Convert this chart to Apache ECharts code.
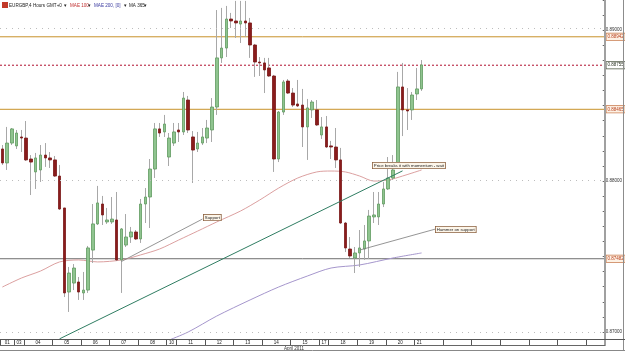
<!DOCTYPE html>
<html>
<head>
<meta charset="utf-8">
<script src="https://cdn.jsdelivr.net/npm/echarts@6/dist/echarts.min.js"></script>
<style>
  html, body { margin: 0; padding: 0; background: #fff; }
  #chart { width: 625px; height: 351px; }
</style>
</head>
<body>
<div id="chart"></div>
<script>
// EURGBP 4 hours, 1 - 21 April 2011
const openP = [0.88204,0.88112,0.88243,0.88224,0.88283,0.88276,0.88138,0.88053,0.88066,0.88164,
  0.88145,0.88132,0.88026,0.87816,0.87263,0.87322,0.87329,0.87257,0.87276,0.87539,
  0.87711,0.87842,0.87724,0.87724,0.87737,0.87474,0.87572,0.87625,0.87658,0.87612,
  0.87842,0.87888,0.88072,0.88336,0.88316,0.88151,0.88243,0.88329,0.88316,0.88526,
  0.88283,0.88204,0.88243,0.88276,0.88329,0.88480,0.88803,0.88868,0.89059,0.89046,
  0.89026,0.89046,0.89033,0.88888,0.88776,0.88770,0.88737,0.88684,0.88138,0.88447,
  0.88651,0.88572,0.88500,0.88493,0.88349,0.88461,0.88461,0.88296,0.88349,0.88224,
  0.88217,0.88132,0.87717,0.87546,0.87487,0.87520,0.87546,0.87599,0.87757,0.87757,
  0.87842,0.87941,0.88013,0.88112,0.88612,0.88461,0.88461,0.88566,0.88599];
const closeP = [0.88112,0.88243,0.88336,0.88309,0.88276,0.88132,0.88118,0.88145,0.88164,0.88145,
  0.88132,0.88026,0.87809,0.87257,0.87388,0.87421,0.87263,0.87276,0.87553,0.87711,
  0.87849,0.87770,0.87737,0.87743,0.87474,0.87678,0.87625,0.87658,0.87612,0.87842,
  0.87888,0.88072,0.88336,0.88309,0.88368,0.88276,0.88316,0.88316,0.88539,0.88329,
  0.88197,0.88243,0.88283,0.88342,0.88480,0.88803,0.88868,0.89059,0.89046,0.89033,
  0.89046,0.89033,0.88888,0.88776,0.88770,0.88724,0.88684,0.88138,0.88447,0.88645,
  0.88572,0.88493,0.88487,0.88349,0.88474,0.88513,0.88362,0.88349,0.88217,0.88217,
  0.88132,0.87717,0.87553,0.87500,0.87520,0.87553,0.87599,0.87763,0.87770,0.87842,
  0.87941,0.88013,0.88066,0.88612,0.88461,0.88454,0.88559,0.88599,0.88757];
const lowP = [0.88099,0.88066,0.88230,0.88204,0.88184,0.88125,0.87901,0.87941,0.87987,0.88086,
  0.88079,0.88020,0.87803,0.87230,0.87132,0.87276,0.87211,0.87211,0.87257,0.87454,
  0.87704,0.87704,0.87711,0.87711,0.87467,0.87257,0.87559,0.87586,0.87605,0.87586,
  0.87717,0.87684,0.88013,0.88283,0.88283,0.88092,0.88224,0.88250,0.88296,0.88309,
  0.87980,0.88184,0.88230,0.88243,0.88250,0.88428,0.88770,0.88809,0.89000,0.88934,
  0.88901,0.88941,0.88803,0.88678,0.88684,0.88572,0.88678,0.88053,0.88118,0.88428,
  0.88566,0.88480,0.88480,0.88217,0.88132,0.88408,0.88355,0.88270,0.88211,0.88138,
  0.88079,0.87711,0.87526,0.87487,0.87388,0.87428,0.87474,0.87480,0.87717,0.87704,
  0.87822,0.87934,0.88000,0.88099,0.88289,0.88329,0.88395,0.88526,0.88586];
const highP = [0.88230,0.88349,0.88342,0.88329,0.88329,0.88388,0.88164,0.88178,0.88230,0.88243,
  0.88184,0.88158,0.88099,0.87816,0.87428,0.87447,0.87362,0.87395,0.87566,0.87842,
  0.87961,0.87895,0.87816,0.87888,0.87921,0.87684,0.87776,0.87691,0.87671,0.87875,
  0.87947,0.88138,0.88375,0.88375,0.88428,0.88309,0.88375,0.88375,0.88579,0.88553,
  0.88322,0.88316,0.88342,0.88395,0.88539,0.89118,0.89132,0.89145,0.89099,0.89178,
  0.89178,0.89178,0.89066,0.88895,0.88809,0.88803,0.88803,0.88691,0.88454,0.88658,
  0.88664,0.88605,0.88658,0.88599,0.88533,0.88526,0.88526,0.88414,0.88421,0.88257,
  0.88342,0.88211,0.87724,0.87625,0.87559,0.87671,0.87704,0.87803,0.87921,0.87921,
  0.87987,0.88151,0.88164,0.88711,0.88770,0.88605,0.88579,0.88737,0.88789];

// days on the time strip and how many candles each one holds
const dayNames = ['01','03','04','05','06','07','08','10','11','12','13','14','15','17','18','19','20','21'];
const dayCandles = [3,2,6,6,6,6,6,2,6,6,6,6,6,2,6,6,6,2];
const totalSlots = 127;

// MAE 100 (red) and MAE 200 (blue), sampled at candle indexes
const mae100Idx = [0,4,8,12,16,20,25,29,33,37,41,45,50,54,58,62,66,69,72,75,78,81,84,88];
const mae100Val = [0.87296,0.87355,0.87401,0.87461,0.87474,0.87461,0.87474,0.87507,0.87546,0.87605,
  0.87664,0.87724,0.87796,0.87868,0.87947,0.88013,0.88053,0.88059,0.88053,0.88026,0.87993,0.88000,0.88026,0.88066];
const mae200Idx = [35,39,45,52,58,64,69,75,82,88];
const mae200Val = [0.86947,0.87000,0.87105,0.87211,0.87296,0.87368,0.87421,0.87441,0.87487,0.87520];

// horizontal levels, price ticks
const levels = [0.88942, 0.88755, 0.88465, 0.87482];
const yTicks = [0.87, 0.88, 0.89];

// drawn lines: trend line and note pointers [fromIdx, fromPrice, toIdx, toPrice]
const trendLine = [12, 0.86955, 84, 0.88060];
const supportPointer = [25, 0.87464, 42, 0.87743];
const hammerPointer = [75, 0.87539, 91, 0.87678];

const FONT = 'Liberation Sans';

const chart = echarts.init(document.getElementById('chart'));

const slots = Array.from({length: totalSlots}, (_, i) => String(i));
const wickData = lowP.map((l, i) => [l, l, l, highP[i]]);
const bodyData = openP.map((o, i) => [o, closeP[i], Math.min(o, closeP[i]), Math.max(o, closeP[i])]);

function sparse(idx, val) {
  const arr = new Array(totalSlots).fill(null);
  idx.forEach((k, j) => { arr[k] = val[j]; });
  return arr;
}

// day cells on the time strip
const dayBounds = [];
const dayCenters = [];
let start = 0;
dayCandles.forEach((n) => {
  dayBounds.push(start - 0.5);
  dayCenters.push(start + (n - 1) / 2);
  start += n;
});
let nextCell = start - dayCandles[dayCandles.length - 1] + 6;
while (nextCell < totalSlots) {
  dayBounds.push(nextCell - 0.5);
  nextCell += 6;
}

const levelLook = [
  {line: '#c8922a', type: 'solid', border: '#c8784a', text: '#b8401e', bg: '#fdf1e4'},
  {line: '#b01030', type: [2, 2], border: '#4f5a45', text: '#2a3322', bg: '#ffffff'},
  {line: '#c8922a', type: 'solid', border: '#c8784a', text: '#b8401e', bg: '#fdf1e4'},
  {line: '#6e6e6e', type: 'solid', border: '#c8784a', text: '#b8401e', bg: '#fdf1e4'}
];

function pair(p, color, width) {
  return [
    {coord: [p[0], p[1]], lineStyle: {color: color, width: width, type: 'solid'}, label: {show: false}},
    {coord: [p[2], p[3]]}
  ];
}

// one flat line series per level, across the whole plot, with its price box at the end
const levelSeries = levels.map((v, i) => ({
  name: 'level ' + v, type: 'line', xAxisIndex: 1, yAxisIndex: 0, z: 1, silent: true,
  data: [[-0.5, v], [totalSlots - 0.5, v]],
  symbol: 'none', color: levelLook[i].line,
  lineStyle: {color: levelLook[i].line, width: 1, type: levelLook[i].type},
  endLabel: {
    show: true, distance: 1.5, formatter: v.toFixed(5),
    fontSize: 4.5, fontFamily: FONT, color: levelLook[i].text,
    backgroundColor: levelLook[i].bg, borderColor: levelLook[i].border, borderWidth: 0.8,
    padding: [1, 1, 0.5, 1]
  }
}));

function noteBox(x, y, text) {
  return {
    type: 'text', left: x, top: y, z: 20,
    style: {
      text: text, font: '4.3px "' + FONT + '"', fill: '#222',
      backgroundColor: '#fdf6ea', borderColor: '#8a6040', borderWidth: 0.8,
      padding: [1, 1, 0.5, 1]
    }
  };
}

function headText(x, text, color) {
  return {type: 'text', left: x, top: 3, z: 20, style: {text: text, font: '4.6px "' + FONT + '"', fill: color}};
}

function hline(x1, x2, y, color, w) {
  return {type: 'line', z: 30, shape: {x1: x1, y1: y, x2: x2, y2: y}, style: {stroke: color, lineWidth: w}};
}
function vline(x, y1, y2, color, w) {
  return {type: 'line', z: 30, shape: {x1: x, y1: y1, x2: x, y2: y2}, style: {stroke: color, lineWidth: w}};
}

chart.setOption({
  animation: false,
  backgroundColor: '#ffffff',
  grid: [
    {left: 0, right: 20, top: 0, bottom: 12},
    // same price scale, used only for the tick marks and labels
    {left: 0, right: 20, top: -2.4, bottom: 19}
  ],
  xAxis: [
    {type: 'category', gridIndex: 0, data: slots, show: false},
    {
      type: 'value', gridIndex: 0, position: 'bottom', min: -0.5, max: totalSlots - 0.5,
      axisLine: {show: false},
      splitLine: {show: false},
      axisTick: {show: true, customValues: dayBounds, length: 6, lineStyle: {color: '#555', width: 1}},
      axisLabel: {
        show: true, customValues: dayCenters, margin: 1.5,
        fontSize: 4.5, fontFamily: FONT, color: '#222',
        formatter: (v) => {
          const k = dayCenters.findIndex(c => Math.abs(c - v) < 1e-6);
          return k >= 0 ? dayNames[k] : '';
        }
      }
    },
    {type: 'category', gridIndex: 1, data: slots, show: false}
  ],
  yAxis: [
    {
      type: 'value', gridIndex: 0, position: 'right', min: 0.86954, max: 0.89184,
      axisLine: {show: false}, axisTick: {show: false}, axisLabel: {show: false}, splitLine: {show: false}
    },
    {
      type: 'value', gridIndex: 1, position: 'right', min: 0.870, max: 0.892, interval: 0.001,
      axisLine: {show: false}, splitLine: {show: false},
      axisTick: {show: true, length: 2, lineStyle: {color: '#666', width: 1}},
      axisLabel: {
        show: true, margin: 3, fontSize: 4.5, fontFamily: FONT, color: '#333',
        formatter: (v) => yTicks.some(t => Math.abs(t - v) < 1e-7) ? v.toFixed(5) : ''
      }
    }
  ],
  series: levelSeries.concat([
    {
      name: 'MAE 100', type: 'line', data: sparse(mae100Idx, mae100Val), connectNulls: true,
      smooth: 0.3, symbol: 'none', lineStyle: {color: '#dca0a0', width: 1}, z: 2
    },
    {
      name: 'MAE 200', type: 'line', data: sparse(mae200Idx, mae200Val), connectNulls: true,
      smooth: 0.3, symbol: 'none', lineStyle: {color: '#a596cc', width: 1}, z: 2
    },
    {
      name: 'wick', type: 'candlestick', data: wickData, barWidth: 1, z: 3,
      itemStyle: {color: '#a8a8a8', color0: '#a8a8a8', borderColor: '#a8a8a8', borderColor0: '#a8a8a8', borderWidth: 1},
      // dotted price grid
      markLine: {
        symbol: 'none', silent: true, precision: 6, label: {show: false},
        lineStyle: {color: '#bdbdbd', width: 1, type: [1, 5]},
        data: yTicks.map(v => ({yAxis: v}))
      }
    },
    {
      name: 'EURGBP', type: 'candlestick', data: bodyData, barWidth: 3, z: 4,
      itemStyle: {color: '#8fc48f', color0: '#8a1c1c', borderColor: '#5f9a5f', borderColor0: '#7a1616', borderWidth: 0.8},
      markLine: {
        symbol: 'none', silent: true, precision: 6,
        data: [
          pair(trendLine, '#2f7d62', 1),
          pair(supportPointer, '#7a7a7a', 0.8),
          pair(hammerPointer, '#7a7a7a', 0.8)
        ]
      }
    }
  ]),
  graphic: [
    // header
    {type: 'rect', left: 2, top: 2, z: 20, shape: {width: 6, height: 6}, style: {fill: '#c23a2a'}},
    headText(9, 'EURGBP,4 Hours GMT+0', '#222'),
    headText(64, '\u25be', '#222'),
    headText(70, 'MAE 100', '#c03030'),
    headText(88, '\u25be', '#222'),
    headText(94, 'MAE 200, [0]', '#3a3aa0'),
    headText(124, '\u25be', '#222'),
    headText(129, 'MA 365', '#222'),
    headText(144, '\u25be', '#222'),
    // notes
    noteBox(203, 214, 'Support'),
    noteBox(372, 162, 'Price breaks it with momentum - wait'),
    noteBox(435, 226, 'Hammer on support'),
    // frame and time strip
    vline(605, 0, 346, '#a0a0a0', 2),
    vline(623.5, 0, 351, '#8c8c8c', 1),
    hline(0, 625, 339.5, '#555555', 1),
    hline(0, 605, 345.5, '#666666', 1),
    hline(0, 625, 350.5, '#888888', 1),
    {type: 'text', left: 284, top: 346.5, z: 20, style: {text: 'April 2011', font: '4.5px "' + FONT + '"', fill: '#333'}}
  ]
});
</script>
</body>
</html>
